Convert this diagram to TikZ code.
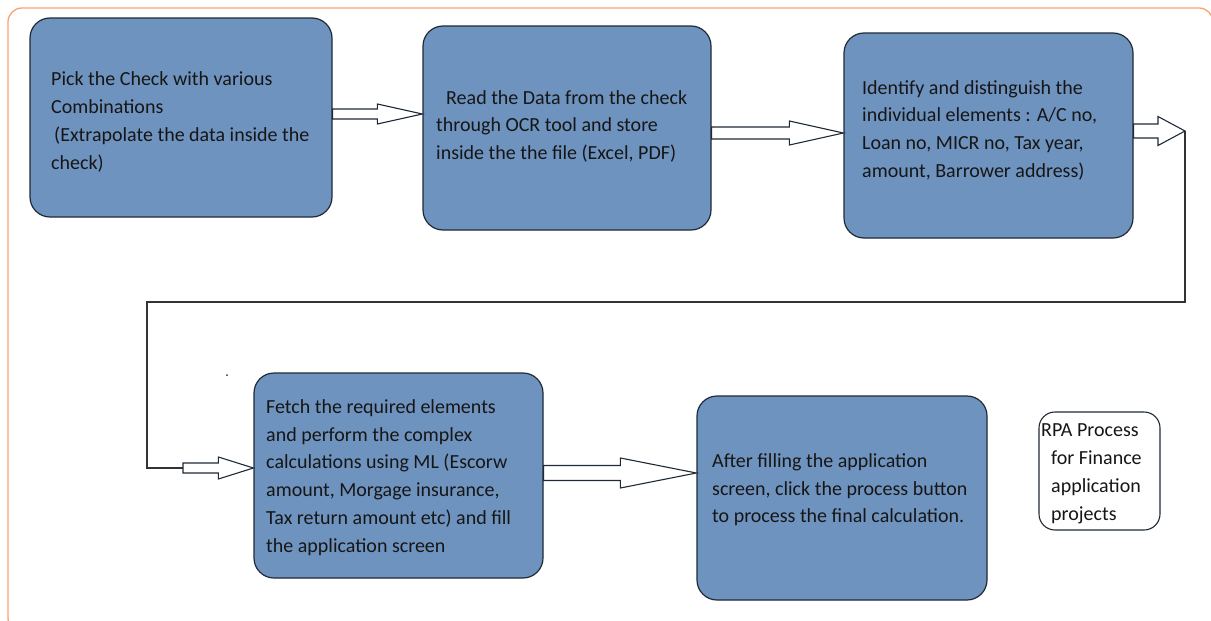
\documentclass[tikz,border=0pt]{standalone}
\usepackage{fontspec}
\setmainfont{Carlito}
\usetikzlibrary{calc}
\definecolor{boxblue}{HTML}{6F93BF}
\definecolor{boxline}{HTML}{1F2A36}
\definecolor{frameorange}{HTML}{F9A46A}
\definecolor{txt}{HTML}{161616}
\definecolor{conn}{HTML}{333333}
\newcommand\blockarrow[5]{%
  \draw[blockarr] let \p1=(#1), \p2=(#2) in
   (\x1,\y1+#3) -- (\x2-#5,\y1+#3) -- (\x2-#5,\y1+#4) -- (\x2,\y2)
   -- (\x2-#5,\y1-#4) -- (\x2-#5,\y1-#3) -- (\x1,\y1-#3) -- cycle;}
\begin{document}
\begin{tikzpicture}[x=1pt,y=-1pt,
  box/.style={draw=boxline, line width=1.2pt, fill=boxblue, rounded corners=20pt, inner sep=0pt},
  notebox/.style={draw=boxline, line width=1.1pt, fill=white, rounded corners=16pt, inner sep=0pt},
  boxtext/.style={anchor=north west, inner sep=0pt, align=left, text=txt,
    font=\fontsize{20}{27.7}\selectfont},
  blockarr/.style={draw=boxline, line width=1.1pt, fill=white, line join=miter},
  connline/.style={draw=conn, line width=1.2pt}]
\useasboundingbox (0,0) rectangle (1211,621);
\begin{scope}
\clip (0,0) rectangle (1211,621);
\draw[frameorange, line width=1.3pt, rounded corners=14pt] (8,8) rectangle (1213,632);
\end{scope}
% boxes
\node[box, minimum width=302, minimum height=199] (b1) at (181,117.5) {};
\node[box, minimum width=288, minimum height=204] (b2) at (567,128) {};
\node[box, minimum width=289, minimum height=205] (b3) at (988.5,135.5) {};
\node[box, minimum width=289, minimum height=205] (b4) at (398.5,475.5) {};
\node[box, minimum width=290, minimum height=204] (b5) at (842,498) {};
\node[notebox, minimum width=121, minimum height=118] (b6) at (1099.5,471) {};
% texts
\node[boxtext] (l1) at (51,69.7) {\rule{0pt}{16pt}Pick the Check with various\\Combinations\\\hspace*{3pt}(Extrapolate the data inside the\\check)};
\node[boxtext] (l2) at (436,88) {\rule{0pt}{16pt}\hspace*{10pt}Read the Data from the check\\through OCR tool and store\\inside the the file (Excel, PDF)};
\node[boxtext] (l3) at (862,78) {\rule{0pt}{16pt}Identify and distinguish the\\individual elements : A/C no,\\Loan no, MICR no, Tax year,\\amount, Barrower address)};
\node[boxtext] (l4) at (266,397.3) {\rule{0pt}{16pt}Fetch the required elements\\and perform the complex\\calculations using ML (Escorw\\amount, Morgage insurance,\\Tax return amount etc) and fill\\the application screen};
\node[boxtext] (l5) at (712,451.3) {\rule{0pt}{16pt}After filling the application\\screen, click the process button\\to process the final calculation.};
\node[boxtext] (l6) at (1041,420.7) {\rule{0pt}{16pt}RPA Process\\\hspace*{10pt}for Finance\\\hspace*{10pt}application\\\hspace*{10pt}projects};
% connector coordinates
\coordinate (t1) at (b2.west |- 0,114);
\coordinate (s1) at (b1.east |- t1);
\coordinate (t2) at (b3.west |- 0,133);
\coordinate (s2) at (b2.east |- t2);
\coordinate (s3) at (b3.east |- 0,131);
\coordinate (t3) at (1185,131);
\coordinate (c1) at (1185,302);
\coordinate (c2) at (147,302);
\coordinate (c3) at (147,468);
\coordinate (s4) at (183,468);
\coordinate (t4) at (b4.west |- s4);
\coordinate (s5) at (b4.east |- 0,473);
\coordinate (t5) at (b5.west |- s5);
% route line
\draw[connline] (t3) -- (c1) -- (c2) -- (c3) -- (s4);
% block arrows
\blockarrow{s1}{t1}{5pt}{10pt}{45pt}
\blockarrow{s2}{t2}{6pt}{12pt}{54pt}
\blockarrow{s3}{t3}{7pt}{14.5pt}{27pt}
\blockarrow{s4}{t4}{5pt}{11pt}{35pt}
\blockarrow{s5}{t5}{7.5pt}{15pt}{76pt}
% stray dot
\fill[conn] (227,375) circle (1pt);
\end{tikzpicture}
\end{document}
